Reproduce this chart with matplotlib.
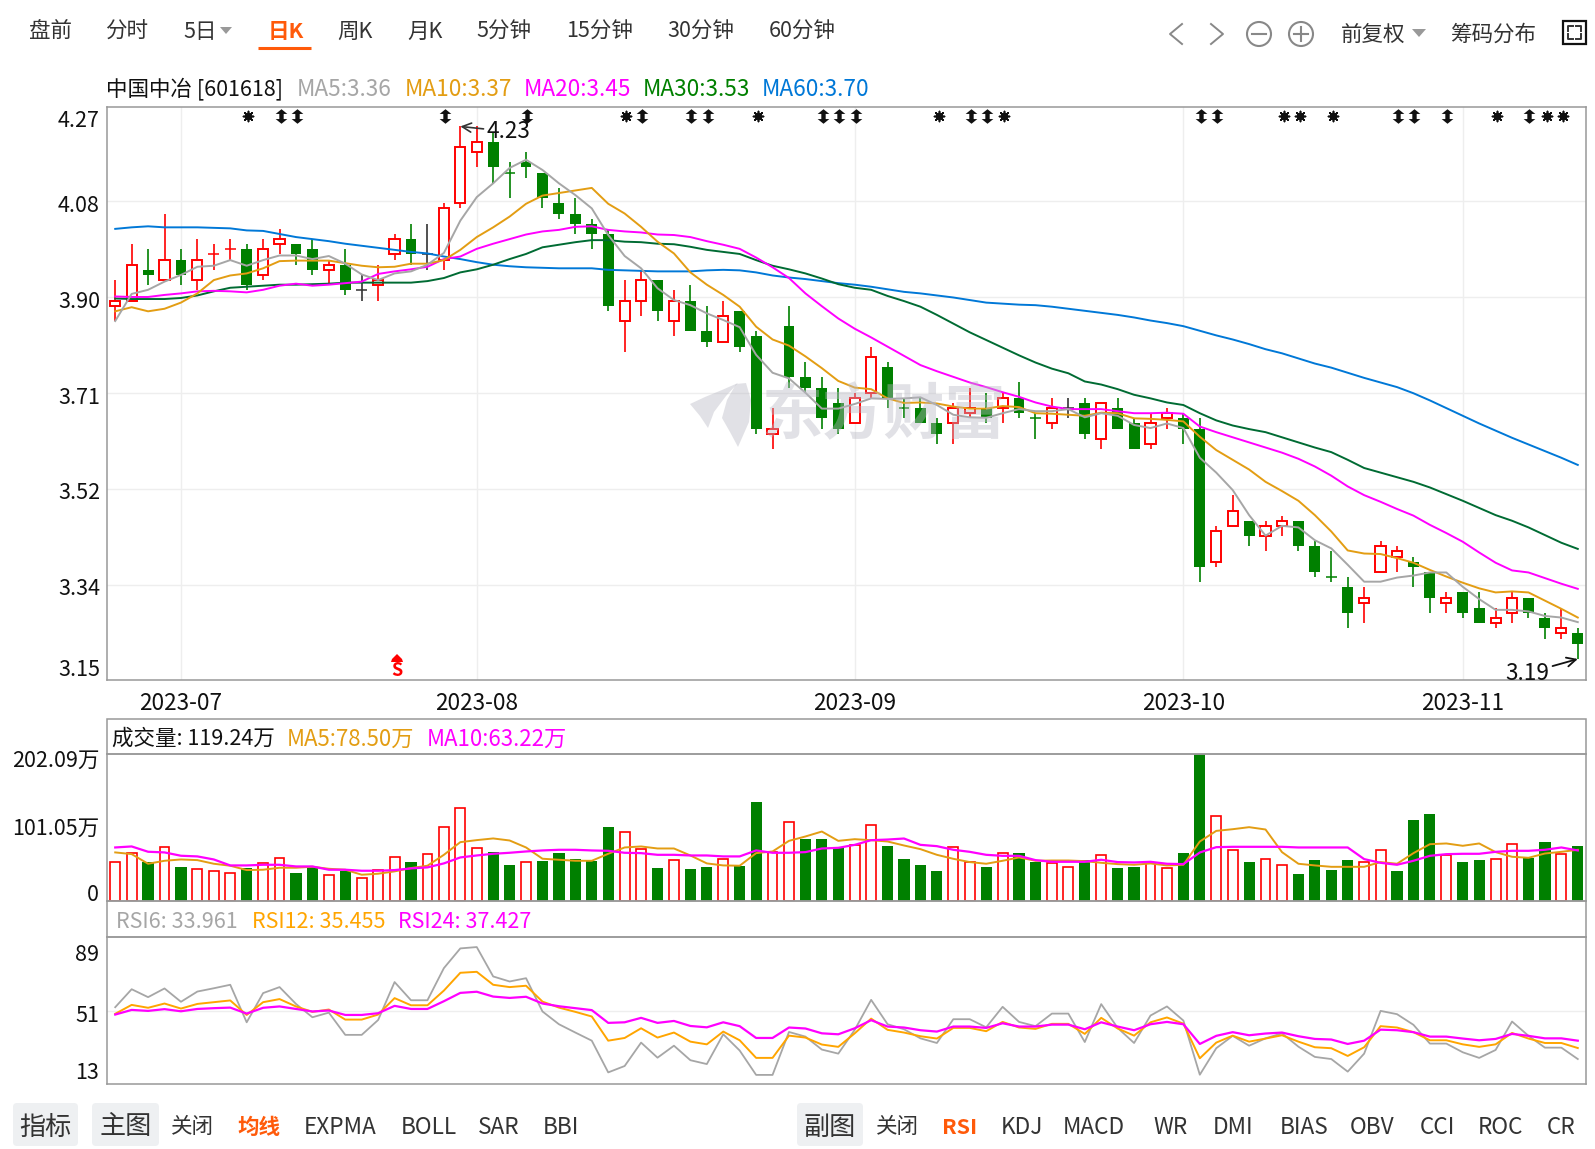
import numpy as np
import matplotlib
matplotlib.use('Agg')
from matplotlib import pyplot as plt
from matplotlib.patches import FancyBboxPatch, Rectangle, Circle, Polygon
from matplotlib.path import Path

plt.rcParams['font.family'] = ['Noto Sans CJK SC', 'DejaVu Sans']

# daily candles
opens = [3.88, 3.89, 3.95, 3.93, 3.97, 3.93, 3.98, 3.99, 3.99, 3.94,
         4.00, 4.00, 3.99, 3.95, 3.96, 3.91, 3.92, 3.98, 4.01, 3.98,
         3.97, 4.08, 4.18, 4.20, 4.14, 4.16, 4.14, 4.08, 4.06, 4.04,
         4.02, 3.85, 3.89, 3.93, 3.85, 3.89, 3.83, 3.81, 3.87, 3.82,
         3.63, 3.84, 3.74, 3.72, 3.69, 3.65, 3.71, 3.76, 3.68, 3.68,
         3.65, 3.65, 3.67, 3.68, 3.68, 3.70, 3.66, 3.65, 3.68, 3.69,
         3.62, 3.68, 3.65, 3.61, 3.66, 3.66, 3.64, 3.38, 3.45, 3.46,
         3.43, 3.45, 3.46, 3.41, 3.35, 3.33, 3.30, 3.36, 3.39, 3.38,
         3.36, 3.30, 3.32, 3.29, 3.26, 3.28, 3.31, 3.27, 3.24, 3.24]
closes = [3.89, 3.96, 3.94, 3.97, 3.94, 3.97, 3.98, 3.99, 3.92, 3.99,
          4.01, 3.98, 3.95, 3.96, 3.91, 3.91, 3.93, 4.01, 3.98, 3.98,
          4.07, 4.19, 4.20, 4.15, 4.14, 4.15, 4.09, 4.06, 4.04, 4.02,
          3.88, 3.89, 3.93, 3.87, 3.89, 3.83, 3.81, 3.86, 3.80, 3.64,
          3.64, 3.74, 3.72, 3.66, 3.64, 3.70, 3.78, 3.70, 3.68, 3.65,
          3.63, 3.68, 3.68, 3.66, 3.70, 3.67, 3.66, 3.68, 3.68, 3.63,
          3.69, 3.64, 3.60, 3.65, 3.67, 3.64, 3.37, 3.44, 3.48, 3.43,
          3.45, 3.46, 3.41, 3.36, 3.35, 3.28, 3.31, 3.41, 3.40, 3.37,
          3.31, 3.31, 3.28, 3.26, 3.27, 3.31, 3.28, 3.25, 3.25, 3.22]
highs = [3.93, 4.00, 3.99, 4.06, 3.99, 4.01, 4.00, 4.01, 4.00, 4.01,
         4.03, 4.00, 4.01, 3.97, 3.99, 3.94, 3.96, 4.02, 4.04, 4.04,
         4.08, 4.23, 4.23, 4.22, 4.16, 4.18, 4.14, 4.11, 4.09, 4.05,
         4.03, 3.93, 3.95, 3.93, 3.91, 3.92, 3.88, 3.89, 3.87, 3.83,
         3.68, 3.88, 3.77, 3.74, 3.72, 3.71, 3.80, 3.77, 3.70, 3.70,
         3.66, 3.69, 3.72, 3.71, 3.71, 3.73, 3.67, 3.70, 3.70, 3.70,
         3.69, 3.70, 3.66, 3.67, 3.68, 3.67, 3.66, 3.45, 3.51, 3.46,
         3.46, 3.47, 3.46, 3.42, 3.40, 3.35, 3.33, 3.42, 3.41, 3.39,
         3.36, 3.32, 3.32, 3.32, 3.29, 3.32, 3.31, 3.28, 3.29, 3.25]
lows = [3.85, 3.89, 3.92, 3.93, 3.92, 3.91, 3.95, 3.97, 3.91, 3.93,
        3.98, 3.96, 3.94, 3.92, 3.90, 3.89, 3.89, 3.97, 3.96, 3.95,
        3.95, 4.07, 4.15, 4.12, 4.09, 4.13, 4.07, 4.05, 4.02, 3.99,
        3.87, 3.79, 3.86, 3.85, 3.82, 3.83, 3.80, 3.81, 3.79, 3.63,
        3.60, 3.72, 3.71, 3.64, 3.63, 3.65, 3.70, 3.68, 3.66, 3.65,
        3.61, 3.61, 3.66, 3.65, 3.65, 3.66, 3.62, 3.64, 3.66, 3.62,
        3.60, 3.64, 3.60, 3.60, 3.64, 3.61, 3.34, 3.37, 3.45, 3.41,
        3.40, 3.43, 3.40, 3.35, 3.34, 3.25, 3.26, 3.36, 3.36, 3.33,
        3.28, 3.28, 3.27, 3.26, 3.25, 3.26, 3.27, 3.23, 3.23, 3.19]

# doji colours where open == close
doji_colors = {6: '#ff0000', 7: '#ff0000', 15: '#333333', 19: '#333333', 24: '#008000',
               48: '#008000', 56: '#008000', 58: '#333333', 74: '#008000'}

ma5 = [3.850, 3.903, 3.911, 3.927, 3.940, 3.956, 3.958, 3.969, 3.958, 3.969,
       3.978, 3.978, 3.971, 3.977, 3.962, 3.941, 3.930, 3.943, 3.947, 3.960,
       3.983, 4.046, 4.092, 4.119, 4.149, 4.165, 4.145, 4.119, 4.096, 4.070,
       4.018, 3.977, 3.953, 3.914, 3.891, 3.881, 3.865, 3.852, 3.838, 3.784,
       3.749, 3.738, 3.710, 3.679, 3.679, 3.688, 3.699, 3.698, 3.699, 3.701,
       3.686, 3.667, 3.662, 3.661, 3.670, 3.678, 3.674, 3.674, 3.678, 3.662,
       3.670, 3.665, 3.647, 3.641, 3.650, 3.641, 3.583, 3.554, 3.520, 3.471,
       3.431, 3.450, 3.447, 3.422, 3.406, 3.374, 3.341, 3.341, 3.349, 3.353,
       3.359, 3.359, 3.331, 3.307, 3.286, 3.286, 3.283, 3.274, 3.271, 3.262]
ma10 = [3.869, 3.877, 3.869, 3.874, 3.886, 3.904, 3.930, 3.939, 3.943, 3.953,
        3.967, 3.968, 3.968, 3.968, 3.963, 3.958, 3.955, 3.956, 3.962, 3.962,
        3.969, 3.989, 4.014, 4.033, 4.054, 4.079, 4.095, 4.100, 4.105, 4.110,
        4.079, 4.060, 4.034, 4.005, 3.982, 3.945, 3.921, 3.901, 3.878, 3.839,
        3.814, 3.802, 3.781, 3.758, 3.733, 3.720, 3.717, 3.699, 3.690, 3.691,
        3.689, 3.683, 3.679, 3.679, 3.684, 3.682, 3.670, 3.669, 3.667, 3.665,
        3.671, 3.670, 3.660, 3.659, 3.657, 3.654, 3.624, 3.598, 3.579, 3.560,
        3.536, 3.518, 3.499, 3.471, 3.439, 3.402, 3.396, 3.395, 3.387, 3.378,
        3.364, 3.351, 3.339, 3.328, 3.320, 3.322, 3.320, 3.304, 3.288, 3.271]
ma20 = [3.898, 3.897, 3.897, 3.901, 3.904, 3.908, 3.909, 3.908, 3.906, 3.911,
        3.919, 3.923, 3.919, 3.921, 3.924, 3.927, 3.942, 3.947, 3.951, 3.956,
        3.971, 3.976, 3.991, 4.001, 4.010, 4.019, 4.025, 4.028, 4.034, 4.035,
        4.028, 4.025, 4.023, 4.019, 4.018, 4.014, 4.006, 3.999, 3.991, 3.974,
        3.955, 3.934, 3.904, 3.879, 3.855, 3.835, 3.818, 3.800, 3.782, 3.764,
        3.752, 3.741, 3.730, 3.721, 3.711, 3.702, 3.691, 3.683, 3.678, 3.678,
        3.678, 3.674, 3.670, 3.670, 3.671, 3.669, 3.644, 3.633, 3.623, 3.613,
        3.603, 3.593, 3.581, 3.566, 3.548, 3.527, 3.510, 3.497, 3.483, 3.470,
        3.452, 3.436, 3.419, 3.398, 3.378, 3.363, 3.359, 3.348, 3.337, 3.327]
ma30 = [3.894, 3.893, 3.893, 3.893, 3.895, 3.900, 3.908, 3.915, 3.917, 3.919,
        3.921, 3.921, 3.922, 3.923, 3.925, 3.925, 3.925, 3.925, 3.925, 3.928,
        3.934, 3.945, 3.951, 3.960, 3.971, 3.981, 3.994, 3.999, 4.004, 4.008,
        4.008, 4.005, 4.004, 4.001, 4.000, 3.995, 3.989, 3.985, 3.981, 3.969,
        3.958, 3.951, 3.943, 3.933, 3.922, 3.915, 3.911, 3.899, 3.889, 3.878,
        3.862, 3.845, 3.828, 3.813, 3.798, 3.783, 3.769, 3.757, 3.748, 3.732,
        3.726, 3.717, 3.706, 3.699, 3.691, 3.686, 3.670, 3.656, 3.646, 3.639,
        3.633, 3.623, 3.613, 3.603, 3.594, 3.579, 3.563, 3.554, 3.545, 3.536,
        3.525, 3.512, 3.499, 3.485, 3.471, 3.460, 3.447, 3.432, 3.417, 3.405]
ma60 = [4.030, 4.033, 4.035, 4.033, 4.033, 4.033, 4.032, 4.031, 4.027, 4.026,
        4.020, 4.014, 4.010, 4.006, 4.001, 3.997, 3.993, 3.989, 3.985, 3.982,
        3.976, 3.971, 3.965, 3.960, 3.957, 3.955, 3.954, 3.953, 3.953, 3.953,
        3.950, 3.949, 3.948, 3.947, 3.947, 3.947, 3.949, 3.950, 3.949, 3.945,
        3.939, 3.935, 3.932, 3.928, 3.924, 3.921, 3.917, 3.912, 3.907, 3.904,
        3.900, 3.896, 3.891, 3.886, 3.884, 3.882, 3.881, 3.878, 3.874, 3.870,
        3.866, 3.862, 3.857, 3.851, 3.846, 3.840, 3.831, 3.822, 3.814, 3.805,
        3.795, 3.787, 3.777, 3.767, 3.759, 3.749, 3.739, 3.730, 3.721, 3.709,
        3.695, 3.680, 3.665, 3.650, 3.636, 3.622, 3.609, 3.596, 3.583, 3.569]

# volume, in 万
volume = [53.5, 65.8, 53.5, 74.1, 47.1, 43.9, 41.1, 38.4, 45.3, 52.1,
          58.5, 38.9, 46.6, 35.7, 41.1, 31.5, 42.1, 60.4, 54.0, 64.5,
          102.4, 127.6, 72.7, 67.7, 49.8, 53.5, 55.3, 66.3, 58.1, 54.4,
          102.0, 94.7, 71.3, 45.7, 56.2, 44.3, 47.1, 57.6, 48.5, 136.3,
          67.7, 108.3, 85.5, 85.5, 74.5, 76.8, 104.2, 75.9, 58.0, 49.8,
          41.6, 74.0, 53.4, 47.0, 65.8, 66.3, 53.9, 51.6, 46.6, 56.7,
          63.1, 45.7, 47.0, 52.0, 45.2, 66.3, 202.09, 116.6, 69.9, 53.9,
          57.6, 49.3, 37.4, 56.7, 43.0, 56.7, 53.4, 69.9, 41.6, 111.5,
          119.8, 63.1, 53.9, 56.7, 57.6, 78.1, 59.4, 81.3, 64.4, 75.9]
volume_sides = 'rrgrgrrrgrrggrgrrrgrrrrggrgggggrrgrggrggrrgggrrggggrrgrggrrgrggrrggrrgrrggggrrgggrggrrggrg'
vol_ma5 = [66.8, 64.5, 51.2, 55.3, 57.1, 56.2, 51.2, 48.5, 42.5, 43.0,
           45.7, 45.7, 47.1, 44.3, 43.0, 36.1, 37.5, 40.7, 45.3, 48.5,
           63.5, 80.9, 83.7, 86.0, 83.2, 73.6, 58.1, 56.7, 55.3, 55.3,
           64.9, 73.6, 75.0, 72.2, 72.2, 62.6, 51.7, 48.9, 48.5, 65.8,
           68.1, 82.7, 88.7, 95.5, 82.7, 85.0, 83.6, 81.8, 76.3, 71.3,
           63.5, 58.0, 53.5, 51.2, 55.3, 59.9, 55.3, 55.7, 55.7, 54.8,
           52.5, 50.7, 49.8, 51.6, 48.9, 49.8, 81.8, 96.4, 98.7, 101.5,
           98.3, 67.2, 51.2, 48.9, 47.0, 47.0, 47.0, 53.5, 51.2, 65.8,
           78.1, 79.1, 75.9, 79.1, 67.2, 60.8, 59.4, 65.3, 67.6, 70.4]
vol_ma10 = [73.6, 75.0, 67.7, 66.8, 62.2, 61.3, 57.1, 48.9, 48.9, 49.8,
            49.8, 47.5, 47.5, 43.0, 43.0, 41.6, 41.6, 42.5, 44.8, 46.2,
            51.7, 59.9, 62.6, 64.9, 66.3, 68.1, 69.5, 70.4, 70.4, 69.5,
            69.0, 66.3, 65.8, 63.5, 63.5, 62.6, 62.6, 61.3, 61.3, 69.5,
            66.3, 66.3, 67.2, 72.2, 73.1, 77.2, 83.6, 84.5, 85.9, 77.2,
            75.4, 70.4, 67.6, 63.5, 62.1, 62.1, 56.2, 53.9, 53.9, 53.9,
            56.7, 53.5, 53.0, 53.9, 51.2, 50.7, 66.7, 74.0, 74.5, 74.5,
            74.5, 74.5, 73.6, 73.6, 73.6, 73.6, 57.6, 52.5, 49.8, 55.3,
            62.1, 64.4, 64.9, 64.9, 67.6, 69.0, 69.0, 70.4, 73.6, 69.5]

rsi6 = [52.7, 62.0, 57.9, 62.4, 55.5, 60.8, 62.5, 64.3, 44.9, 60.0,
        63.1, 54.4, 47.5, 49.9, 38.4, 38.4, 46.1, 65.7, 56.3, 56.3,
        72.9, 83.1, 83.8, 68.6, 66.0, 67.7, 50.5, 43.9, 39.6, 35.4,
        19.0, 22.3, 34.4, 26.6, 32.8, 25.3, 23.3, 38.7, 30.3, 17.7,
        17.7, 39.9, 37.5, 30.8, 28.7, 41.0, 56.5, 43.9, 41.3, 36.6,
        34.2, 46.5, 46.5, 42.3, 52.9, 45.1, 42.9, 49.4, 49.4, 34.7,
        54.3, 42.0, 34.2, 48.4, 53.1, 45.8, 17.8, 31.5, 37.9, 32.8,
        36.6, 39.2, 32.3, 27.0, 25.9, 19.4, 28.7, 50.8, 49.1, 43.6,
        33.9, 33.9, 29.4, 26.5, 30.6, 45.3, 37.9, 31.8, 31.8, 25.9]
rsi12 = [49.3, 53.9, 52.4, 54.6, 52.0, 54.4, 55.3, 56.2, 48.7, 55.3,
         56.9, 53.1, 50.3, 51.5, 46.3, 46.3, 48.9, 57.4, 53.7, 53.7,
         61.3, 70.5, 71.0, 64.3, 63.1, 63.8, 55.6, 52.5, 50.3, 47.9,
         35.4, 36.8, 41.8, 37.0, 39.6, 34.9, 33.5, 40.1, 35.6, 26.5,
         26.5, 38.0, 37.0, 33.4, 32.2, 39.2, 46.8, 41.0, 39.6, 37.7,
         36.5, 42.0, 42.0, 40.3, 45.1, 42.2, 41.5, 44.1, 44.1, 38.9,
         47.2, 41.7, 38.0, 44.9, 47.4, 44.2, 26.3, 34.4, 38.0, 34.9,
         36.5, 38.2, 34.9, 32.0, 31.5, 27.5, 32.0, 42.9, 42.2, 39.8,
         35.6, 35.6, 33.5, 32.2, 33.5, 39.4, 36.5, 34.2, 34.2, 31.6]
rsi24 = [48.9, 51.3, 50.8, 51.7, 50.6, 51.8, 52.2, 52.5, 49.4, 52.4,
         53.1, 51.8, 50.5, 51.0, 48.7, 48.7, 49.6, 53.4, 51.8, 51.8,
         55.8, 60.1, 60.7, 58.2, 57.5, 58.1, 54.6, 53.2, 52.2, 51.2,
         44.6, 44.9, 47.2, 44.6, 45.6, 43.0, 42.3, 44.9, 42.9, 36.8,
         36.8, 42.2, 41.7, 39.2, 38.7, 41.8, 46.0, 42.7, 42.2, 40.8,
         40.1, 42.7, 42.7, 42.0, 44.4, 42.7, 42.7, 43.7, 43.7, 41.3,
         44.9, 42.7, 40.8, 43.9, 45.1, 43.9, 33.7, 37.9, 39.8, 38.2,
         39.1, 39.6, 37.7, 36.3, 36.0, 33.7, 35.4, 41.1, 40.8, 39.8,
         37.5, 37.5, 36.5, 35.6, 36.3, 38.9, 37.9, 36.6, 36.6, 35.4]

month_positions = [4, 22, 45, 65, 82]
month_labels = ['2023-07', '2023-08', '2023-09', '2023-10', '2023-11']
price_grid = [4.085, 3.897, 3.71, 3.522, 3.335]
price_labels = ['4.27', '4.08', '3.90', '3.71', '3.52', '3.34', '3.15']
volume_labels = ['202.09万', '101.05万', '0']
rsi_labels = ['89', '51', '13']
star_days = [8, 31, 39, 50, 54, 71, 72, 74, 84, 87, 88]
double_days = [10, 11, 20, 25, 32, 35, 36, 43, 44, 45, 52, 53, 66, 67, 78, 79, 81, 86]
buy_day = 17

GREEN = '#008000'
RED = '#ff0000'
GRAY = '#a6a6a6'
GOLD = '#e39d13'
MAGENTA = '#ff00ff'
DARK_GREEN = '#006b33'
BLUE = '#0078d7'
FRAME = '#999999'
TEXT = '#333333'
ORANGE = '#ff5a0a'
FS = 15.5
FS_LATIN = 16.3

W, H = 1595, 1149
fig = plt.figure(figsize=(W / 100, H / 100), dpi=100, facecolor='white')


def pane(left, top, right, bottom):
    ax = fig.add_axes([left / W, 1 - bottom / H, (right - left) / W, (bottom - top) / H])
    for s in ax.spines.values():
        s.set_color(FRAME)
        s.set_linewidth(1.1)
    ax.set_xlim(-0.5, 89.5)
    ax.set_yticks([])
    ax.tick_params(length=0)
    return ax


days = np.arange(len(opens))
o = np.array(opens)
c = np.array(closes)
h = np.array(highs)
l = np.array(lows)
up = c > o
down = c < o
flat = c == o

# main chart
ax = pane(107, 107, 1586, 680)
ax.set_ylim(3.149, 4.268)
ax.set_axisbelow(True)
ax.set_yticks(price_grid)
ax.set_yticklabels([])
ax.set_xticks(month_positions)
ax.set_xticklabels(month_labels, fontsize=FS_LATIN, color='#111111')
ax.tick_params(axis='x', pad=9)
ax.grid(True, color='#eeeeee', linewidth=1)

wick_colors = [RED if u else GREEN if d else doji_colors[i] for i, (u, d) in enumerate(zip(up, down))]
ax.vlines(days, l, h, colors=wick_colors, linewidth=1.2, zorder=2)
ax.bar(days[down], (o - c)[down], bottom=c[down], width=0.66, color=GREEN, zorder=3)
ax.bar(days[up], (c - o)[up], bottom=o[up], width=0.62, facecolor='white', edgecolor=RED, linewidth=1.4, zorder=3)
for i in days[flat]:
    ax.hlines(o[i], i - 0.33, i + 0.33, colors=doji_colors[i], linewidth=1.1, zorder=3)

ax.plot(days, ma60, color=BLUE, linewidth=1.4, zorder=4)
ax.plot(days, ma30, color=DARK_GREEN, linewidth=1.4, zorder=4)
ax.plot(days, ma20, color=MAGENTA, linewidth=1.4, zorder=4)
ax.plot(days, ma10, color=GOLD, linewidth=1.4, zorder=4)
ax.plot(days, ma5, color=GRAY, linewidth=1.4, zorder=4)

ax.annotate('4.23', xy=(21, 4.23), xytext=(26, -5), textcoords='offset pixels', fontsize=FS_LATIN, color='#111111',
            ha='left', va='center', zorder=6, arrowprops=dict(arrowstyle='->', color='#333333', lw=1.2, shrinkA=0, shrinkB=0))
ax.annotate('3.19', xy=(89, 3.19), xytext=(-28, -14), textcoords='offset pixels', fontsize=FS_LATIN, color='#111111',
            ha='right', va='center', zorder=6, annotation_clip=False,
            arrowprops=dict(arrowstyle='->', color='#111111', lw=1.3, shrinkA=0, shrinkB=0))

# signal markers along the top of the chart
arrow_path = Path([(0, 1), (0.8, 0.35), (0.3, 0.35), (0.3, -0.35), (0.8, -0.35), (0, -1),
                   (-0.8, -0.35), (-0.3, -0.35), (-0.3, 0.35), (-0.8, 0.35), (0, 1)], closed=True)
top_y = ax.get_xaxis_transform()
star_x = np.array(star_days) + 0.1
double_x = np.array(double_days) + 0.06
ax.scatter(star_x, [0.984] * len(star_x), transform=top_y, marker=(8, 2, 0), s=52, color='#111111', linewidth=1.2, zorder=6)
ax.scatter(star_x, [0.984] * len(star_x), transform=top_y, marker='o', s=18, color='#111111', zorder=6)
ax.scatter(double_x, [0.984] * len(double_x), transform=top_y, marker=arrow_path, s=110, color='#111111', linewidth=0, zorder=6)

# volume
ax_vol = pane(107, 754, 1586, 901)
ax_vol.set_ylim(0, 202.09)
ax_vol.set_xticks([])
vol = np.array(volume)
sides = np.array(list(volume_sides))
ax_vol.bar(days[sides == 'g'], vol[sides == 'g'], width=0.68, color=GREEN, zorder=2)
ax_vol.bar(days[sides == 'r'], vol[sides == 'r'], width=0.6, facecolor='white', edgecolor=RED, linewidth=1.2, zorder=2)
ax_vol.plot(days, vol_ma5, color=GOLD, linewidth=1.4, zorder=3)
ax_vol.plot(days, vol_ma10, color=MAGENTA, linewidth=1.6, zorder=3)

# RSI
ax_rsi = pane(107, 937, 1586, 1084)
ax_rsi.set_ylim(13, 89)
ax_rsi.set_xticks([])
ax_rsi.set_yticks([51])
ax_rsi.set_yticklabels([])
ax_rsi.grid(True, axis='y', color='#eeeeee', linewidth=1)
ax_rsi.plot(days, rsi6, color=GRAY, linewidth=1.3)
ax_rsi.plot(days, rsi12, color='#ffa500', linewidth=1.4)
ax_rsi.plot(days, rsi24, color=MAGENTA, linewidth=1.6)

# everything else sits on a pixel overlay
ui = fig.add_axes([0, 0, 1, 1], zorder=5)
ui.set_xlim(0, W)
ui.set_ylim(H, 0)
ui.axis('off')
ui.patch.set_alpha(0)

# watermark
ui.text(884, 415, '东方财富', fontsize=44, fontweight='bold', color='#b9b9c4', alpha=0.42, ha='center', va='center')
ui.add_patch(Polygon([(690, 404), (705, 397), (722, 390), (738, 383), (726, 396), (714, 412), (708, 428), (700, 416)],
                     closed=True, facecolor='#b9b9c4', alpha=0.42, edgecolor='none'))
ui.add_patch(Polygon([(736, 384), (746, 383), (751, 400), (749, 422), (738, 447), (730, 432), (722, 418), (727, 400)],
                     closed=True, facecolor='#b9b9c4', alpha=0.42, edgecolor='none'))

# buy marker
ui.add_patch(Polygon([(392, 659), (397, 654), (402, 659), (403, 662), (391, 662)], closed=True, facecolor=RED, edgecolor='none'))
ui.text(396.5, 671, 'S', fontsize=13, fontweight='bold', color=RED, ha='center', va='center')

# section headers
ui.add_patch(Rectangle((107, 719), 1479, 35, facecolor='none', edgecolor=FRAME, linewidth=1.1))
ui.add_patch(Rectangle((107, 901), 1479, 36, facecolor='none', edgecolor=FRAME, linewidth=1.1))

# top tabs
tabs = [('盘前', 29), ('分时', 105), ('5日', 183), ('周K', 337), ('月K', 407), ('5分钟', 476), ('15分钟', 566), ('30分钟', 667), ('60分钟', 769)]
for label, x in tabs:
    ui.text(x, 32, label, fontsize=FS, color=TEXT, ha='left', va='center')
ui.text(268, 32, '日K', fontsize=FS, fontweight='bold', color=ORANGE, ha='left', va='center')
ui.plot([258, 311], [48, 48], color=ORANGE, linewidth=2.2, solid_capstyle='butt')
ui.add_patch(Polygon([(220, 27), (232, 27), (226, 34)], closed=True, facecolor='#999999', edgecolor='none'))

# right controls
ui.plot([1182, 1170, 1182], [24, 34, 44], color='#888888', linewidth=1.4)
ui.plot([1211, 1223, 1211], [24, 34, 44], color='#888888', linewidth=1.4)
ui.add_patch(Circle((1259, 34), 12, facecolor='none', edgecolor='#888888', linewidth=1.5))
ui.plot([1252, 1266], [34, 34], color='#888888', linewidth=1.5)
ui.add_patch(Circle((1301, 34), 12, facecolor='none', edgecolor='#888888', linewidth=1.5))
ui.plot([1294, 1308], [34, 34], color='#888888', linewidth=1.5)
ui.plot([1301, 1301], [27, 41], color='#888888', linewidth=1.5)
ui.text(1341, 35, '前复权', fontsize=FS, color=TEXT, ha='left', va='center')
ui.add_patch(Polygon([(1412, 29), (1426, 29), (1419, 37)], closed=True, facecolor='#999999', edgecolor='none'))
ui.text(1450, 35, '筹码分布', fontsize=FS, color=TEXT, ha='left', va='center')
ui.add_patch(Rectangle((1563, 21), 23, 23, facecolor='none', edgecolor='#111111', linewidth=1.6))
ui.plot([1568, 1568, 1573], [31, 26, 26], color='#333333', linewidth=1.4)
ui.plot([1576, 1581, 1581], [26, 26, 31], color='#333333', linewidth=1.4)
ui.plot([1568, 1568, 1573], [34, 39, 39], color='#333333', linewidth=1.4)
ui.plot([1576, 1581, 1581], [39, 39, 34], color='#333333', linewidth=1.4)

# main legend
ui.text(106, 89, '中国中冶 [601618]', fontsize=FS, color='#111111', ha='left', va='center')
legend = [('MA5:3.36', 297, GRAY), ('MA10:3.37', 405, GOLD), ('MA20:3.45', 524, MAGENTA),
          ('MA30:3.53', 643, GREEN), ('MA60:3.70', 762, BLUE)]
for label, x, color in legend:
    ui.text(x, 89, label, fontsize=FS_LATIN, color=color, ha='left', va='center')

# volume legend
ui.text(112, 739, '成交量: 119.24万', fontsize=FS, color='#111111', ha='left', va='center')
legend = [('MA5:78.50万', 287, GOLD), ('MA10:63.22万', 427, MAGENTA)]
for label, x, color in legend:
    ui.text(x, 739, label, fontsize=16, color=color, ha='left', va='center')

# RSI legend
legend = [('RSI6: 33.961', 116, GRAY), ('RSI12: 35.455', 252, '#ffa500'), ('RSI24: 37.427', 398, MAGENTA)]
for label, x, color in legend:
    ui.text(x, 922, label, fontsize=FS, color=color, ha='left', va='center')

# axis labels
for label, y in zip(price_labels, [121, 205.5, 302, 398, 493, 589, 670]):
    ui.text(100, y, label, fontsize=FS, color='#111111', ha='right', va='center')
for label, y in zip(volume_labels, [761, 829, 895]):
    ui.text(99, y, label, fontsize=FS, color='#111111', ha='right', va='center')
for label, y in zip(rsi_labels, [955, 1016, 1073]):
    ui.text(99, y, label, fontsize=FS, color='#111111', ha='right', va='center')

# bottom buttons
for x0, x1, label in [(13, 78, '指标'), (92, 159, '主图'), (797, 863, '副图')]:
    ui.add_patch(FancyBboxPatch((x0 + 4, 1107), x1 - x0 - 8, 35, boxstyle='round,pad=4', facecolor='#eef0f2', edgecolor='none'))
    ui.text((x0 + x1) / 2, 1127, label, fontsize=18.8, color=TEXT, ha='center', va='center')

ui.text(171, 1127, '关闭', fontsize=FS, color=TEXT, ha='left', va='center')
ui.text(876, 1127, '关闭', fontsize=FS, color=TEXT, ha='left', va='center')
buttons = [('EXPMA', 304), ('BOLL', 401), ('SAR', 478), ('BBI', 543), ('KDJ', 1001),
           ('MACD', 1063), ('WR', 1153), ('DMI', 1213), ('BIAS', 1280), ('OBV', 1350), ('CCI', 1420), ('ROC', 1478), ('CR', 1547)]
for label, x in buttons:
    ui.text(x, 1127, label, fontsize=FS_LATIN, color=TEXT, ha='left', va='center')
ui.text(237, 1127, '均线', fontsize=FS, fontweight='bold', color=ORANGE, ha='left', va='center')
ui.text(942, 1127, 'RSI', fontsize=FS, fontweight='bold', color=ORANGE, ha='left', va='center')

fig.savefig('out.png', dpi=100)
